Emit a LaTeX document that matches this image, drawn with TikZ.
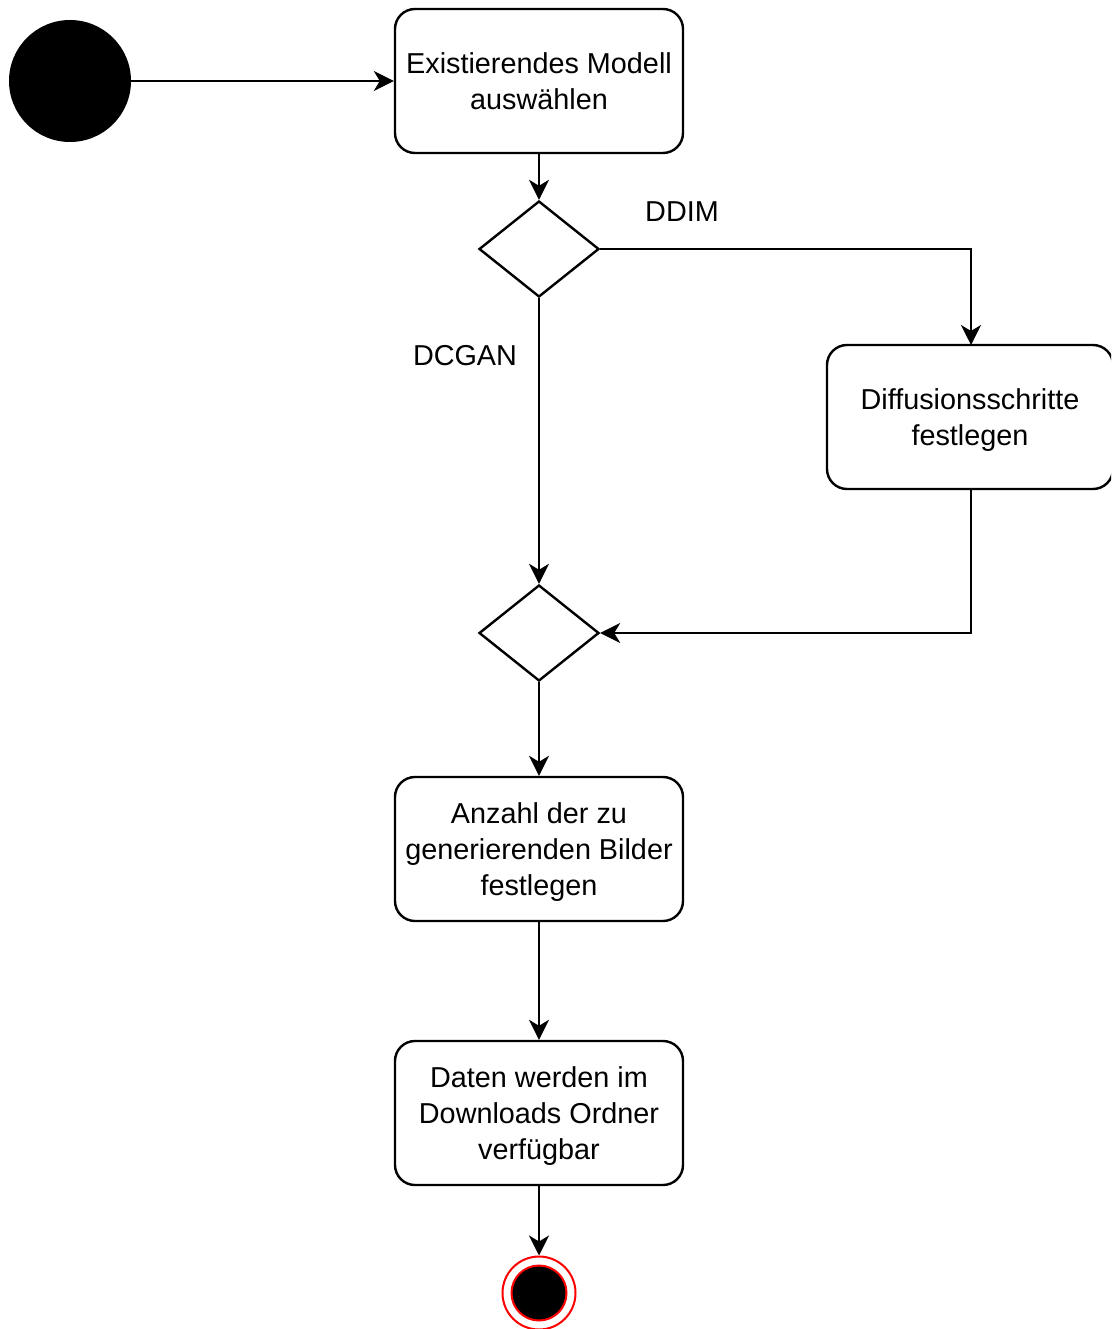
\documentclass[tikz,border=0pt]{standalone}
\usepackage{fontspec}
\setmainfont{Liberation Sans}
\usetikzlibrary{arrows.meta,shapes.geometric}
% tall strut on the first line of an activity, lowers its text block a little
\newcommand{\topstrut}{\rule{0pt}{27pt}}
\begin{document}
\begin{tikzpicture}[x=1pt,y=-1pt,
  every node/.style={font=\fontsize{28.8}{36}\selectfont, inner sep=0pt},
  actbox/.style={draw, line width=2.4pt, rounded corners=20pt, minimum width=288pt, minimum height=144pt, align=center},
  decision/.style={draw, line width=2.4pt, diamond, minimum width=120pt, minimum height=96pt, aspect=1.25},
  flow/.style={line width=2.4pt, -{Stealth[length=20pt, width=20pt, inset=6pt]}},
  lbl/.style={anchor=center}]
  \useasboundingbox (0,0) rectangle (1111,1329);
  \begin{scope}
  \clip (0,0) rectangle (1111,1329);

  % initial state
  \node[circle, fill=black, minimum size=122pt] (start) at (70,81) {};

  % activities
  \node[actbox] (pick) at (539,81) {Existierendes Modell\\auswählen};
  \node[decision] (d1) at (539,249) {};
  \node[actbox, minimum width=286pt] (steps) at (970,417) {\topstrut Diffusionsschritte\\festlegen};
  \node[decision] (d2) at (539,633) {};
  \node[actbox] (count) at (539,849) {\topstrut Anzahl der zu\\generierenden Bilder\\festlegen};
  \node[actbox] (dl) at (539,1113) {\topstrut Daten werden im\\Downloads Ordner\\verfügbar};

  % final state
  \node[circle, draw=red, line width=2pt, minimum size=73pt] (end) at (539,1293) {};
  \node[circle, draw=red, fill=black, line width=2pt, minimum size=55pt] (endin) at (539,1293) {};

  % guard labels
  \node[lbl] (gddim) at (682,212) {DDIM};
  \node[lbl] (gdcgan) at (465,356) {DCGAN};

  % connectors
  \draw[flow] (start.east) -- (pick.west);
  \draw[flow] (pick.south) -- (d1.north);
  \draw[flow] (d1.east) -| (971,345);
  \draw[flow] (d1.south) -- (d2.north);
  \draw[flow] (971,489) |- (d2.east);
  \draw[flow] (d2.south) -- (count.north);
  \draw[flow] (count.south) -- (dl.north);
  \draw[flow] (dl.south) -- (end.north);
  \end{scope}
\end{tikzpicture}
\end{document}
